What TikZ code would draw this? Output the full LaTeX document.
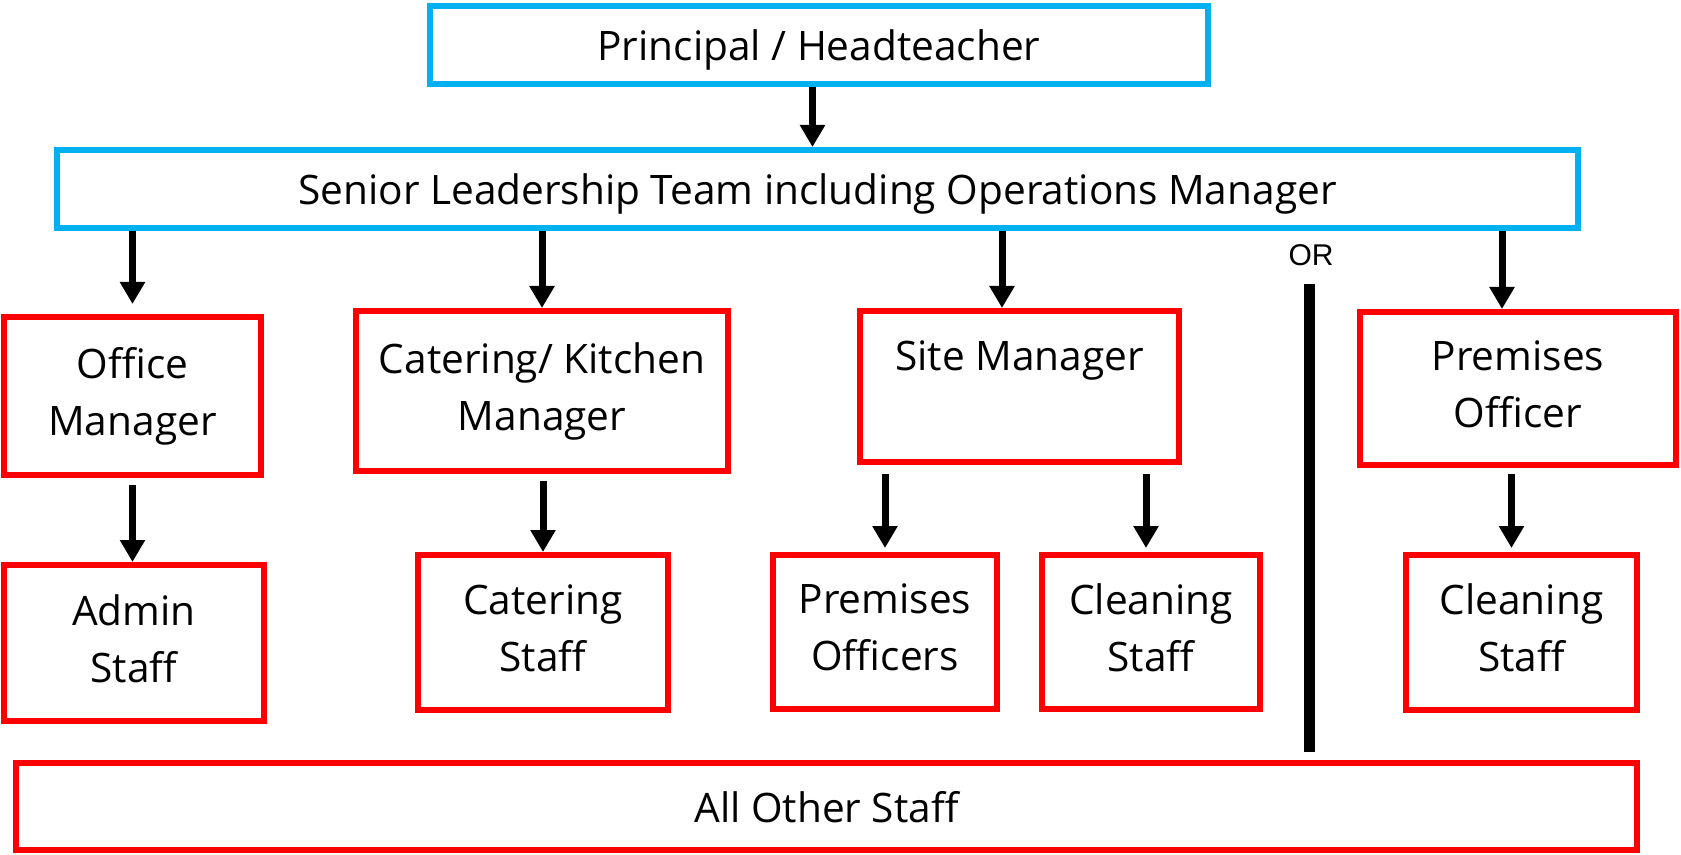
\documentclass[tikz,border=0pt]{standalone}
\usepackage{fontspec}
\setmainfont{Open Sans}
\newfontfamily\orfont{Liberation Sans}
\usetikzlibrary{arrows.meta,calc}
\definecolor{slblue}{RGB}{0,176,240}
\definecolor{slred}{RGB}{255,0,0}

\begin{document}
\begin{tikzpicture}[x=0.5pt,y=-0.5pt,
	box/.style={draw, line width=3pt, inner sep=0pt, align=center, font=\fontsize{20.3}{28.5}\selectfont},
	bluebox/.style={box, draw=slblue, text depth=0pt},
	redbox/.style={box, draw=slred, text depth=4.8pt},
	arr/.style={-{Triangle[length=11pt,width=12pt]}, line width=3.5pt}]
	\useasboundingbox (0,0) rectangle (1681,855);

	\node[bluebox, minimum width=389pt, minimum height=39pt] (principal) at (819,45) {Principal / Headteacher};
	\node[bluebox, minimum width=760.5pt, minimum height=39pt] (slt) at (817.5,189) {Senior Leadership Team including Operations Manager};

	\node[redbox, minimum width=128.5pt, minimum height=79pt] (office) at (132.5,396) {Office\\Manager};
	\node[redbox, minimum width=186pt, minimum height=80pt] (kitchen) at (542,391) {Catering/ Kitchen\\Manager};
	\node[redbox, minimum width=159.5pt, minimum height=75.5pt, text depth=2pt] (site) at (1019.5,386.5) {Site Manager\\\mbox{}};
	\node[redbox, minimum width=158pt, minimum height=76.5pt] (premofficer) at (1518,388.5) {Premises\\Officer};

	\node[redbox, minimum width=130pt, minimum height=78pt] (admin) at (134,643) {Admin\\Staff};
	\node[redbox, minimum width=125pt, minimum height=77.5pt] (catstaff) at (543,632.5) {Catering\\Staff};
	\node[redbox, minimum width=112pt, minimum height=77pt] (premofficers) at (885,632) {Premises\\Officers};
	\node[redbox, minimum width=109pt, minimum height=77pt] (siteclean) at (1151,632) {Cleaning\\Staff};
	\node[redbox, minimum width=115.5pt, minimum height=77.5pt] (premclean) at (1521.5,632.5) {Cleaning\\Staff};

	\node[redbox, minimum width=810.5pt, minimum height=43.5pt, text depth=0pt] (allother) at (826.5,806.5) {All Other Staff};

	\node[font=\orfont\fontsize{15}{18}\selectfont] (or) at (1311,255) {OR};
	\draw[line width=5.5pt] (1309,284) -- (1309,752);

	\coordinate (principalout) at ($(principal.south)+(-6.5,0)$);
	\coordinate (sitein) at ($(site.north)+(-17.5,0)$);
	\coordinate (premin) at ($(premofficer.north)+(-16,0)$);
	\coordinate (siteout) at ($(siteclean.north)+(-5,0)$);
	\coordinate (premout) at ($(premclean.north)+(-10,0)$);

	\draw[arr] (principalout) -- (principalout |- slt.north);
	\draw[arr, shorten >=5pt] (slt.south -| office.north) -- (office.north);
	\draw[arr] (slt.south -| kitchen.north) -- (kitchen.north);
	\draw[arr] (slt.south -| sitein) -- (sitein);
	\draw[arr] (slt.south -| premin) -- (premin);

	\draw[arr, shorten <=3.5pt] (office.south) -- (office.south |- admin.north);
	\draw[arr, shorten <=3.5pt] (kitchen.south -| catstaff.north) -- (catstaff.north);
	\draw[arr, shorten <=4.5pt, shorten >=2pt] (site.south -| premofficers.north) -- (premofficers.north);
	\draw[arr, shorten <=4.5pt, shorten >=2pt] (site.south -| siteout) -- (siteout);
	\draw[arr, shorten <=3pt, shorten >=2pt] (premofficer.south -| premout) -- (premout);
\end{tikzpicture}
\end{document}
